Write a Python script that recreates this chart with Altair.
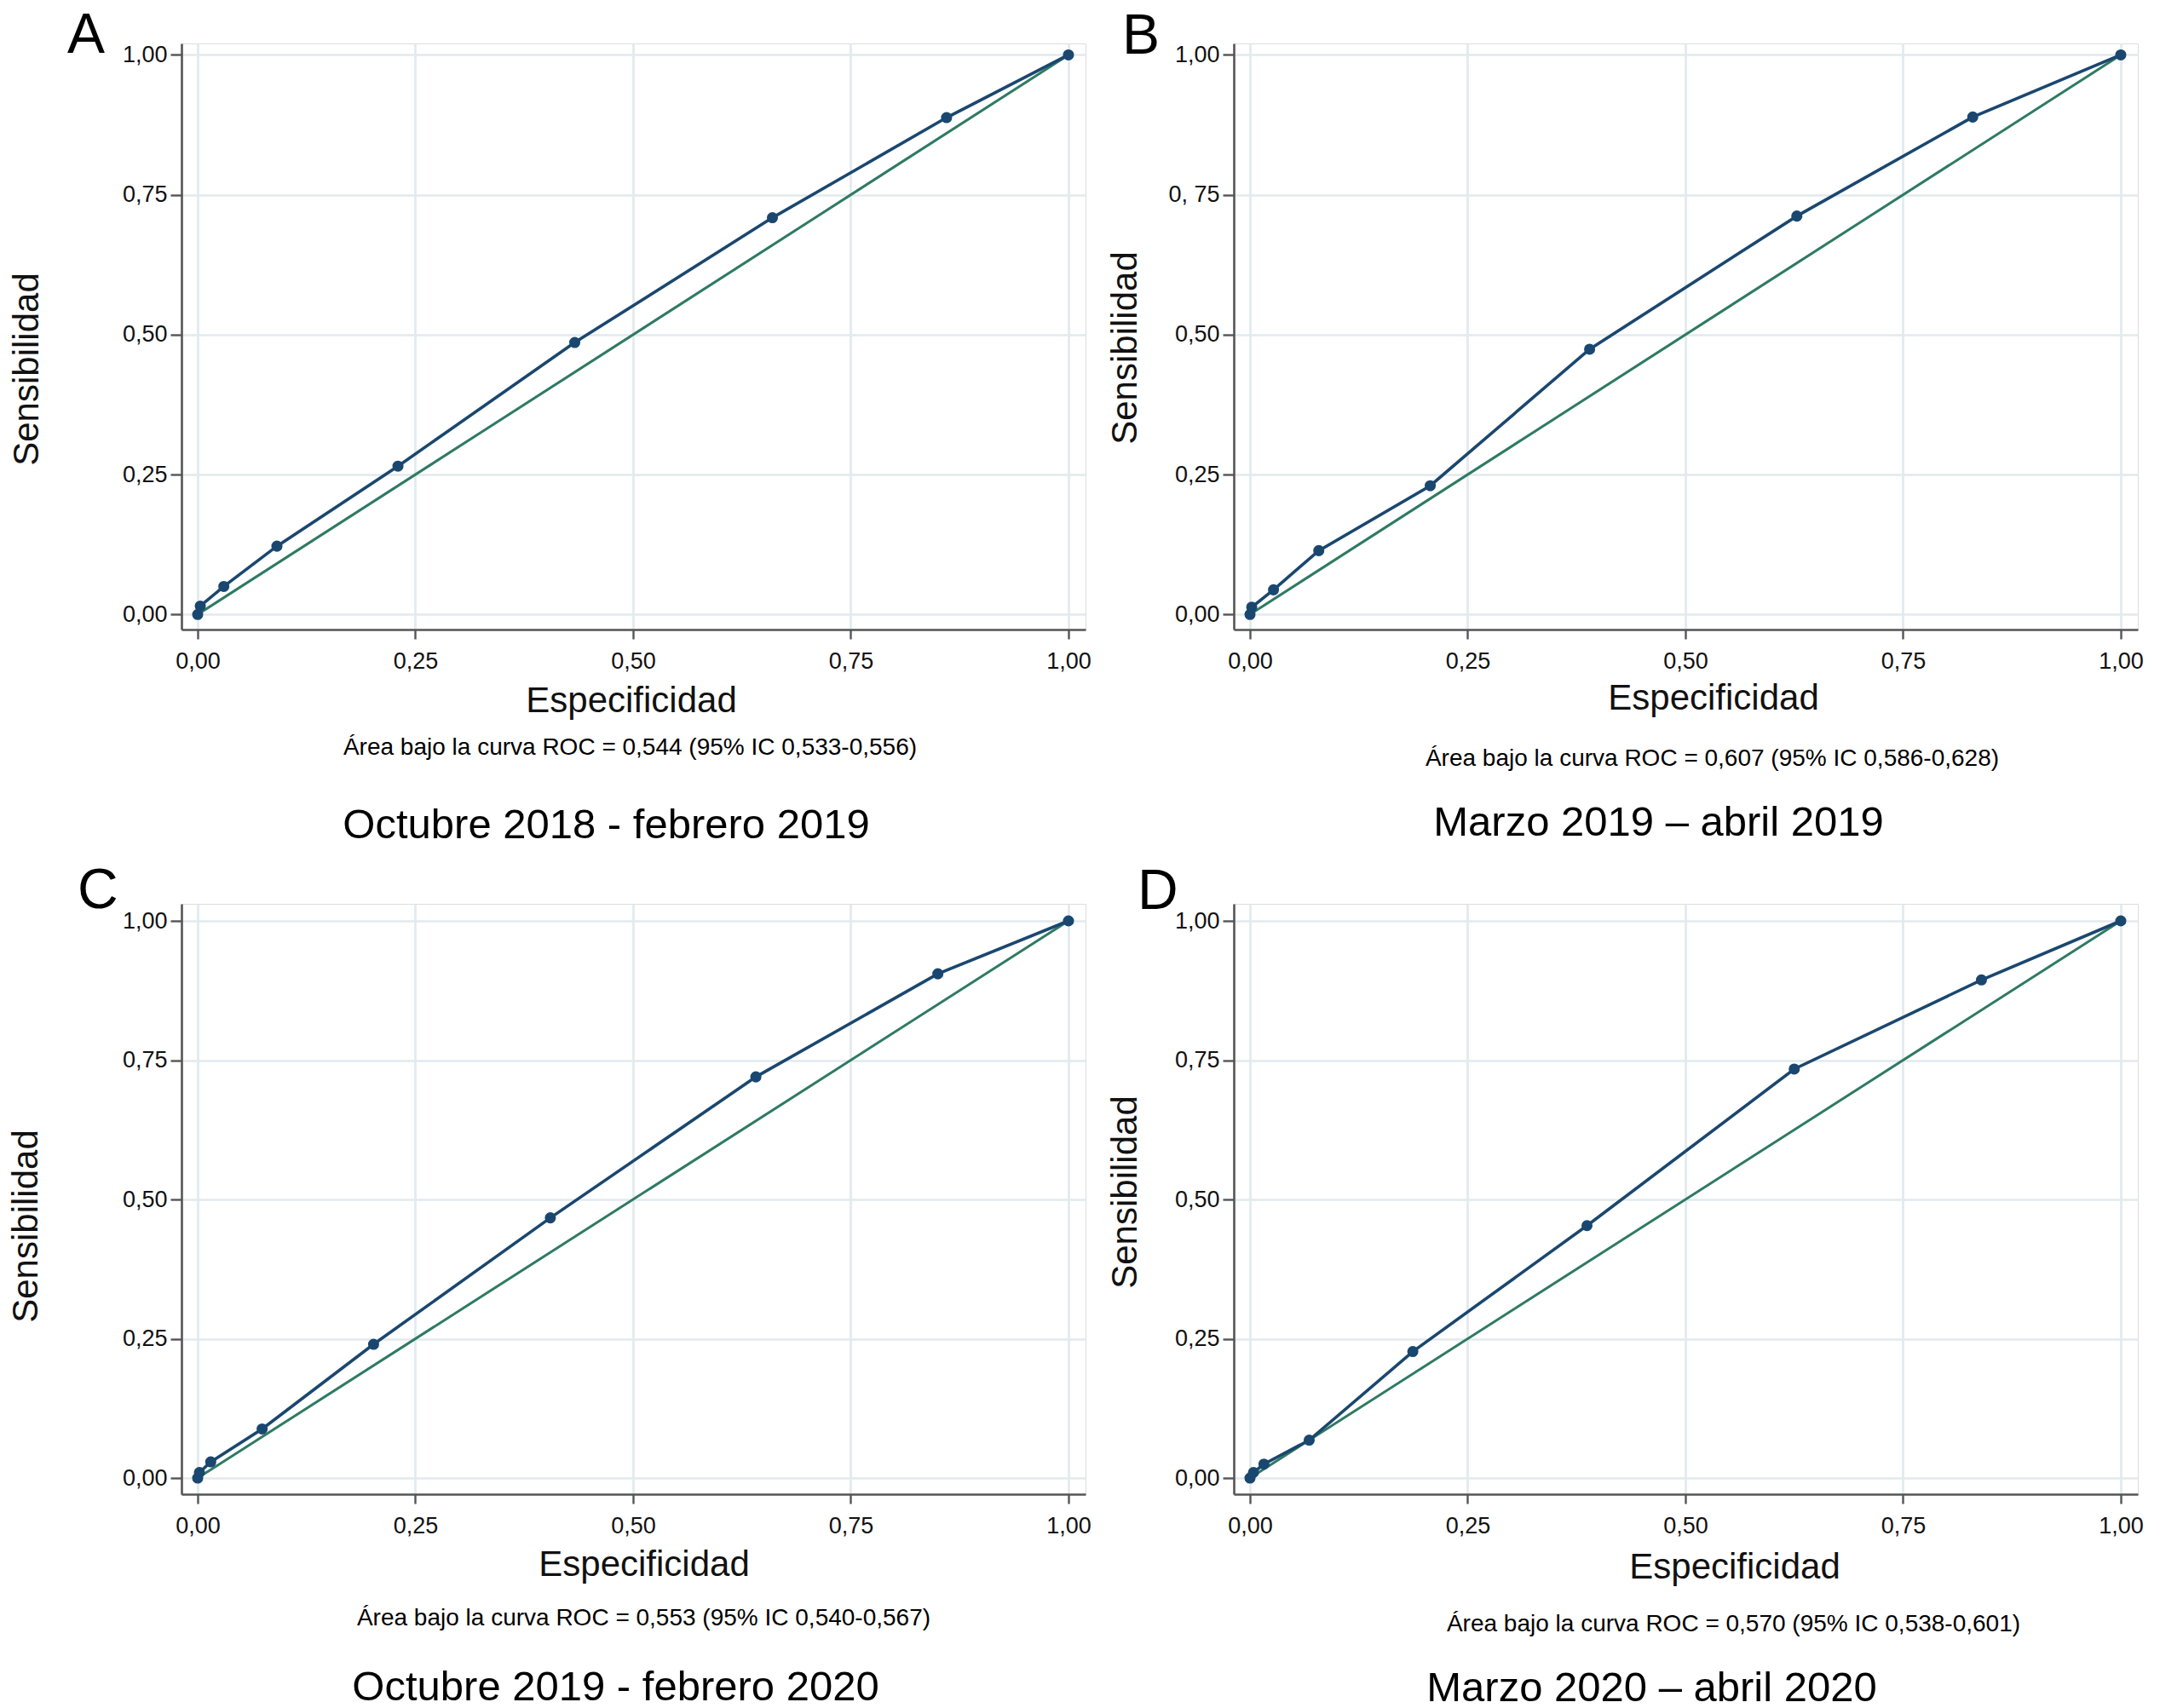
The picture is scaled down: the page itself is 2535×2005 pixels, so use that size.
import altair as alt
import pandas as pd

# ---------------- data ----------------
letters = ["A", "B", "C", "D"]
periods = [
    "Octubre 2018 - febrero 2019",
    "Marzo 2019 – abril 2019",
    "Octubre 2019 - febrero 2020",
    "Marzo 2020 – abril 2020",
]
captions = [
    "Área bajo la curva ROC = 0,544 (95% IC 0,533-0,556)",
    "Área bajo la curva ROC = 0,607 (95% IC 0,586-0,628)",
    "Área bajo la curva ROC = 0,553 (95% IC 0,540-0,567)",
    "Área bajo la curva ROC = 0,570 (95% IC 0,538-0,601)",
]

spec_A = [0.0, 0.003, 0.030, 0.091, 0.230, 0.433, 0.660, 0.860, 1.0]
sens_A = [0.0, 0.015, 0.050, 0.122, 0.265, 0.486, 0.709, 0.888, 1.0]
spec_B = [0.0, 0.002, 0.027, 0.079, 0.207, 0.390, 0.628, 0.830, 1.0]
sens_B = [0.0, 0.013, 0.044, 0.114, 0.230, 0.474, 0.712, 0.889, 1.0]
spec_C = [0.0, 0.002, 0.015, 0.074, 0.202, 0.405, 0.641, 0.850, 1.0]
sens_C = [0.0, 0.010, 0.029, 0.088, 0.240, 0.467, 0.720, 0.905, 1.0]
spec_D = [0.0, 0.004, 0.016, 0.068, 0.187, 0.387, 0.625, 0.840, 1.0]
sens_D = [0.0, 0.010, 0.025, 0.068, 0.227, 0.453, 0.734, 0.894, 1.0]
specs = [spec_A, spec_B, spec_C, spec_D]
senss = [sens_A, sens_B, sens_C, sens_D]

diag_vals = [0.0, 1.0]
tick_vals = [0.0, 0.25, 0.5, 0.75, 1.0]

# ---------------- style ----------------
FONT = "Liberation Sans"
NAVY = "#1a476f"
GREEN = "#2f7a63"
GRID = "#e2eaee"
AXIS = "#555555"

W = 1061
HEIGHTS = [688, 688, 693, 693]
YDOM = [[-0.027, 1.0205], [-0.027, 1.0205], [-0.029, 1.0306], [-0.029, 1.0306]]
XDOM = [-0.0186, 1.0196]

ytitle_x = [-169, -115, -170, -115]
ytitle_y = [382, 357, 378, 338]
xtitle_y = [96, 93, 95, 98]
xtitle_dx = [-3, 32, 12, 57]
cap_dx = [-4, 31, 12, 56]
cap_dy = [147, 160, 154, 161]
per_dx = [-32, -32, -21, -40]
per_dy = [245, 242, 242, 243]
let_x = [-134, -131, -122, -113]
let_y = [11, 12, 5, 6]

COMMA = "replace(format(datum.value, '.2f'), '.', ',')"


def panel(i):
    H = HEIGHTS[i]
    ylabel = COMMA
    if i == 1:
        ylabel = "datum.value == 0.75 ? '0, 75' : " + COMMA
    xscale = alt.Scale(domain=XDOM, nice=False, zero=False)
    yscale = alt.Scale(domain=YDOM[i], nice=False, zero=False)
    common = dict(
        values=tick_vals,
        grid=True, gridColor=GRID, gridWidth=2.7,
        domainColor=AXIS, domainWidth=2.6,
        tickColor=AXIS, tickWidth=2.4,
        labelFont=FONT, labelFontSize=27, labelColor="#111111",
        titleFont=FONT, titleFontWeight="normal", titleColor="#111111",
        titleBaseline="alphabetic", titleAlign="center",
    )
    xaxis = alt.Axis(
        title="Especificidad", labelExpr=COMMA, tickSize=11, labelPadding=13,
        titleFontSize=42, titleX=W / 2 + xtitle_dx[i], titleY=xtitle_y[i],
        titleAngle=0, **common,
    )
    yaxis = alt.Axis(
        title="Sensibilidad", labelExpr=ylabel, tickSize=13, labelPadding=4,
        titleFontSize=42, titleX=ytitle_x[i], titleY=ytitle_y[i],
        titleAngle=270, **common,
    )

    df = pd.DataFrame({"x": specs[i], "y": senss[i]})
    dg = pd.DataFrame({"x": diag_vals, "y": diag_vals})

    ref = alt.Chart(dg).mark_line(color=GREEN, strokeWidth=3).encode(
        x=alt.X("x:Q", scale=xscale, axis=xaxis),
        y=alt.Y("y:Q", scale=yscale, axis=yaxis),
    )
    roc = alt.Chart(df).mark_line(
        color=NAVY, strokeWidth=3.6,
        point=alt.OverlayMarkDef(filled=True, size=170, color=NAVY, opacity=1),
    ).encode(x="x:Q", y="y:Q")

    letter = alt.Chart(pd.DataFrame({"t": [letters[i]]})).mark_text(
        font=FONT, fontSize=66, align="left", baseline="alphabetic", color="#000000"
    ).encode(text="t:N", x=alt.value(let_x[i]), y=alt.value(let_y[i]))

    cap = alt.Chart(pd.DataFrame({"t": [captions[i]]})).mark_text(
        font=FONT, fontSize=28, align="center", baseline="alphabetic", color="#000000"
    ).encode(text="t:N", x=alt.value(W / 2 + cap_dx[i]), y=alt.value(H + cap_dy[i]))

    per = alt.Chart(pd.DataFrame({"t": [periods[i]]})).mark_text(
        font=FONT, fontSize=49, align="center", baseline="alphabetic", color="#000000"
    ).encode(text="t:N", x=alt.value(W / 2 + per_dx[i]), y=alt.value(H + per_dy[i]))

    layers = [ref, roc, letter, cap, per]
    if i == 0:
        anchor = alt.Chart(pd.DataFrame({"t": [""]})).mark_rect(opacity=0).encode(
            x=alt.value(-203), x2=alt.value(-200), y=alt.value(-41), y2=alt.value(-38)
        )
        layers.append(anchor)
    return alt.layer(*layers).properties(width=W, height=H)


chart = alt.concat(
    *[panel(i) for i in range(4)],
    columns=2,
    spacing={"row": 322, "column": 174},
    bounds="flush",
).properties(padding=0).configure_view(stroke=None).configure(background="white")

chart.save("out.html", embed_options={"renderer": "svg", "actions": False})
